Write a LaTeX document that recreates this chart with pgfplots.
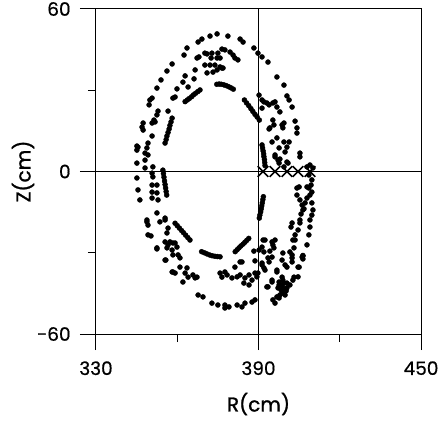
\documentclass[border=0pt]{standalone}
\usepackage{pgfplots}
\usepackage{pgfplotstable}
\pgfplotsset{compat=1.18}
\usepackage{fontspec}
\setmainfont{Poppins}[FakeBold=0.6]
\newfontfamily\lab{Poppins}[FakeBold=1.2]

\pgfplotstableread{
R Z
345.1 3.1
345.1 9.4
345.1 7.9
347.0 16.4
347.4 17.9
349.6 24.6
349.9 26.4
350.7 27.1
352.5 30.8
354.0 33.8
356.2 37.1
358.1 39.7
362.5 43.0
363.6 45.6
367.7 47.8
369.1 48.9
372.1 50.0
374.7 50.8
378.7 50.0
383.2 48.9
384.3 47.8
388.3 45.6
389.8 43.7
391.3 42.3
393.5 40.4
396.8 34.9
399.4 31.9
400.5 27.9
401.3 26.4
402.4 23.8
403.5 18.6
404.2 16.1
404.2 14.2
405.3 6.8
405.3 5.4
407.9 1.7
409.0 2.4
410.1 1.3
408.6 -1.3
409.7 -3.1
409.4 -5.0
408.6 -6.1
409.7 -7.6
409.0 -8.7
407.9 -9.8
409.7 -11.6
410.1 -14.2
409.7 -16.1
409.0 -17.9
409.0 -20.5
408.6 -23.4
407.9 -27.1
406.4 -31.2
406.4 -32.3
404.6 -35.3
404.6 -38.9
402.7 -40.1
401.6 -41.9
400.5 -43.0
399.4 -43.7
398.7 -44.9
397.9 -45.6
396.8 -46.3
396.1 -48.6
395.3 -47.4
388.7 -47.4
387.6 -48.2
385.0 -48.6
383.9 -50.0
382.1 -49.3
379.1 -50.0
377.6 -49.3
377.6 -50.4
375.0 -49.3
372.8 -48.6
369.5 -46.3
367.7 -45.6
362.1 -40.8
358.4 -37.1
355.8 -32.7
352.5 -28.6
349.2 -23.4
348.8 -18.6
346.2 -10.5
345.5 -6.8
345.1 -2.4
350.3 -23.8
350.7 17.9
351.8 18.3
352.9 22.3
352.5 20.9
351.4 19.0
347.4 15.3
350.7 13.1
349.2 10.5
345.5 9.0
348.8 8.7
348.1 6.8
349.2 6.1
348.1 4.2
348.1 1.3
351.0 1.7
350.7 -0.6
351.0 -2.0
350.7 -5.0
352.5 -5.0
350.7 -7.6
350.7 -9.8
352.5 -7.9
352.9 -10.5
352.5 -15.3
348.8 -17.9
355.5 -17.9
353.6 -18.6
349.2 -19.8
358.4 27.1
359.2 27.5
359.9 30.5
362.1 33.0
362.9 35.3
364.0 31.2
366.2 34.2
366.6 37.5
367.3 41.9
368.0 42.3
370.2 43.7
371.0 43.4
372.8 43.7
375.0 43.7
376.5 45.2
377.6 44.9
379.5 44.1
380.6 43.0
381.3 41.9
382.4 41.2
374.7 41.9
372.5 41.9
375.8 41.9
370.2 39.3
372.1 39.3
373.9 39.3
375.8 38.6
376.9 38.2
371.0 36.4
373.2 36.7
374.7 37.5
376.5 38.2
356.6 22.3
390.2 28.2
391.3 26.4
392.0 25.7
393.1 25.3
393.9 24.6
395.3 25.3
396.1 25.7
396.8 23.8
397.9 22.0
391.3 23.4
395.3 19.0
398.7 17.2
399.4 17.9
394.2 16.1
399.0 16.1
395.7 17.2
393.9 15.7
395.0 10.9
396.8 12.4
399.4 10.9
401.3 10.9
397.6 8.7
400.5 9.0
399.8 7.2
396.1 6.1
397.9 4.6
397.6 3.1
400.5 3.5
399.4 1.7
400.9 3.1
396.1 5.4
397.2 4.2
407.9 -5.7
405.0 -5.7
404.2 -6.1
404.2 -8.7
405.3 -10.5
406.1 -12.4
407.2 -11.6
406.8 -13.8
405.7 -15.7
406.4 -14.2
402.4 -19.0
402.0 -20.5
405.3 -19.0
405.3 -17.9
404.6 -21.6
403.5 -23.4
403.5 -25.3
402.7 -25.3
401.6 -29.7
399.0 -30.1
398.7 -32.7
402.4 -31.9
406.4 -31.0
403.1 -28.2
402.4 -30.8
406.1 -31.6
402.4 -33.4
399.8 -34.5
405.0 -35.3
400.5 -35.3
396.8 -37.1
398.7 -39.0
395.0 -40.8
393.1 -42.6
397.6 -40.8
398.7 -41.9
400.5 -41.2
403.1 -39.0
397.6 -46.7
399.8 -45.6
399.0 -40.1
397.2 -43.0
399.0 -43.0
400.2 -44.1
398.3 -43.7
399.4 -41.2
397.6 -41.9
395.0 -26.0
395.7 -28.2
392.4 -25.3
391.3 -27.9
390.2 -29.0
392.0 -29.7
395.0 -31.6
393.9 -33.4
391.7 -25.3
393.5 -31.9
391.3 -34.5
392.4 -36.4
389.8 -37.5
395.0 -40.1
393.5 -42.6
396.8 -36.4
396.1 -25.3
395.3 -27.1
394.2 -29.4
388.3 -29.4
388.7 -33.0
391.3 -33.8
392.0 -35.6
388.7 -37.5
389.4 -38.9
386.5 -38.2
385.0 -39.3
384.6 -41.2
386.5 -41.9
383.2 -38.2
387.6 -40.1
383.2 -33.4
381.3 -35.3
383.9 -33.4
378.4 -38.2
377.6 -37.1
380.2 -39.3
382.1 -38.9
375.8 -37.5
376.5 -39.0
355.5 -17.2
356.6 -20.9
356.2 -22.7
355.5 -26.0
356.6 -27.1
356.2 -28.2
352.5 -28.2
357.3 -26.0
358.4 -26.4
359.2 -26.4
359.9 -27.9
358.1 -29.0
358.4 -30.8
360.3 -30.8
361.0 -31.9
355.5 -32.7
361.0 -35.3
358.1 -37.1
359.2 -37.5
363.6 -35.6
362.9 -37.5
364.0 -39.0
365.8 -38.2
367.3 -39.0
366.6 -39.3
355.5 10.5
355.9 11.8
356.2 13.1
356.6 14.4
357.0 15.7
357.3 17.0
357.7 18.3
358.1 19.7
362.9 25.8
363.7 26.4
364.5 27.0
365.3 27.6
366.0 28.3
366.8 28.9
367.6 29.5
368.4 30.1
374.6 32.2
375.5 32.3
376.3 32.2
377.2 32.0
378.1 31.7
379.0 31.3
379.8 30.9
380.7 30.4
384.8 26.4
385.6 25.3
386.4 24.3
387.2 23.2
387.9 22.2
388.7 21.1
389.5 20.1
390.3 19.0
391.3 9.8
391.5 8.7
391.7 7.6
391.9 6.5
392.0 5.5
392.2 4.4
392.3 3.3
392.4 2.2
391.8 -9.3
391.6 -10.4
391.4 -11.6
391.2 -12.7
391.0 -13.8
390.8 -14.9
390.5 -16.1
390.3 -17.2
381.4 -29.6
382.1 -28.9
382.8 -28.2
383.5 -27.5
384.3 -26.8
385.0 -26.1
385.7 -25.4
386.4 -24.7
369.0 -29.6
370.0 -30.0
370.9 -30.4
371.9 -30.8
372.9 -31.1
373.9 -31.3
374.8 -31.4
375.8 -31.5
359.2 -19.1
360.0 -20.0
360.8 -20.9
361.6 -21.8
362.3 -22.6
363.1 -23.5
363.9 -24.4
364.7 -25.3
354.7 0.5
354.9 -0.8
355.1 -2.1
355.3 -3.5
355.5 -4.8
355.7 -6.1
355.9 -7.4
356.1 -8.7
}\dots

\pgfplotstableread{
R Z
391.7 0
396.1 0
400.5 0
404.6 0
409.0 0
}\crosses

\begin{document}
\fontsize{18.5bp}{22bp}\selectfont
\begin{tikzpicture}
\begin{axis}[
  at={(0,0)}, anchor=south west,
  scale only axis, width=325bp, height=325bp,
  xmin=330, xmax=450, ymin=-60, ymax=60,
  xtick={330,390,450}, ytick={-60,0,60},
  minor xtick={360,420}, minor ytick={-30,30},
  tick align=outside, xtick pos=bottom, ytick pos=left,
  major tick length=16bp, minor tick length=8bp,
  every tick/.style={black, line width=1bp},
  every minor tick/.style={black, line width=1bp},
  axis line style={line width=1bp},
  /pgf/number format/assume math mode=true,
  ticklabel style={font=\fontsize{18.5bp}{22bp}\selectfont},
  xticklabel style={anchor=north, yshift=-5bp},
  yticklabel style={anchor=east, xshift=-3bp},
  label style={font=\lab\fontsize{20bp}{24bp}\selectfont},
  xlabel={R(cm)}, ylabel={Z(cm)},
  xlabel style={at={(axis description cs:0.5,-0.2154)}, anchor=center},
  ylabel style={at={(axis description cs:-0.2246,0.5)}, anchor=center},
  clip=false,
]
\addplot[black, line width=0.9bp] coordinates {(390,-60) (390,60)};
\addplot[black, line width=0.9bp] coordinates {(330,0) (450,0)};
\addplot[only marks, mark=*, mark size=2.5bp, mark options={draw=none, fill=black}] table[x=R, y=Z] {\dots};
\addplot[only marks, mark=x, mark size=7.5bp, mark options={draw=black, line width=1.6bp}] table[x=R, y=Z] {\crosses};
\end{axis}
\pgfresetboundingbox
\path[use as bounding box] (-96bp,-87bp) rectangle (345bp,334bp);
\end{tikzpicture}
\end{document}
